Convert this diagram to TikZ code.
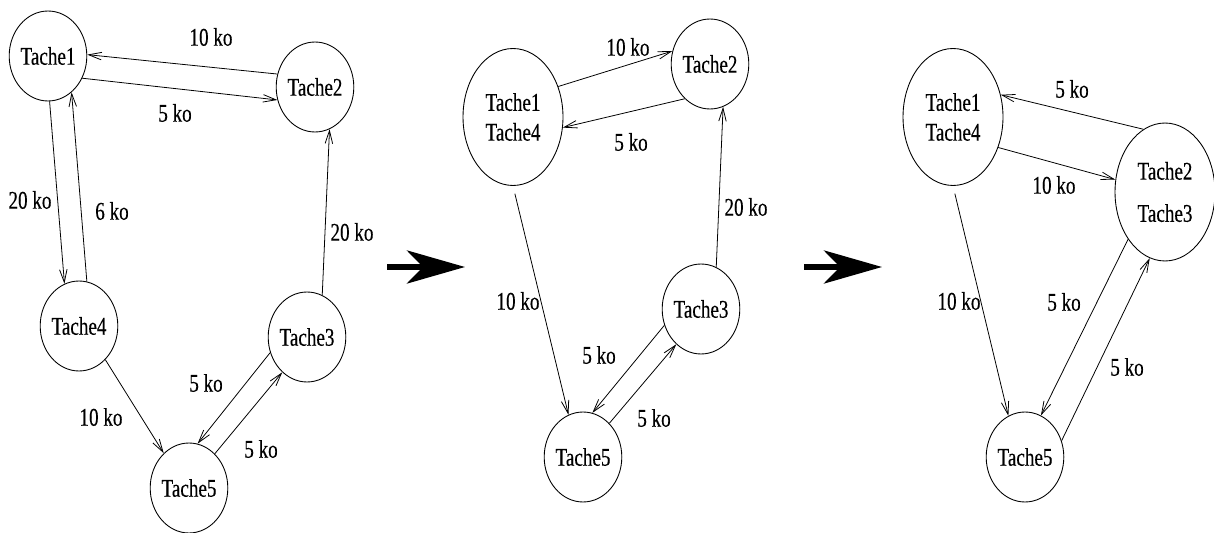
\documentclass[tikz,border=0pt]{standalone}
\usepackage{fontspec}
\setmainfont{Liberation Serif}[FakeStretch=0.75, FakeBold=0.3]
\usetikzlibrary{shapes.geometric, arrows.meta}

\begin{document}
\begin{tikzpicture}[
    x=0.02cm, y=-0.02cm,
    font=\fontsize{14.5}{17}\selectfont,
    tache/.style={
        draw,
        ellipse,
        line width=0.5pt,
        inner sep=0pt,
        minimum width=1.3cm,
        minimum height=1.8cm
    },
    merged/.style={tache, minimum width=2cm, minimum height=2.74cm, align=center},
    flow/.style={-{Straight Barb[length=2.6mm, width=1.5mm]}, line width=0.45pt},
    qty/.style={inner sep=0pt},
    bigarrow/.style={-{Stealth[length=1.16cm, width=0.66cm, inset=0.32cm]}, line width=3.4pt}
]
\useasboundingbox (0,0) rectangle (1214,533);

% Initial graph
\node[tache] (aT1) at (48,56) {Tache1};
\node[tache] (aT2) at (315,87) {Tache2};
\node[tache] (aT4) at (79,326) {Tache4};
\node[tache] (aT3) at (307,337) {Tache3};
\node[tache] (aT5) at (189,488) {Tache5};

\draw[flow] (aT2.161) -- (aT1.2);
\draw[flow] (aT1.-33) -- (aT2.199);
\draw[flow] (aT1.-88) -- (aT4.109);
\draw[flow] (aT4.80) -- (aT1.-57);
\draw[flow] (aT3.70) -- (aT2.-71);
\draw[flow] (aT4.-52) -- (aT5.126);
\draw[flow] (aT3.203) -- (aT5.79);
\draw[flow] (aT5.53) -- (aT3.235);

\node[qty] (aL12) at (211,37) {10 ko};
\node[qty] (aL21) at (175,113) {5 ko};
\node[qty] (aL14) at (30,200) {20 ko};
\node[qty] (aL41) at (112,211) {6 ko};
\node[qty] (aL32) at (352,232) {20 ko};
\node[qty] (aL45) at (101,417) {10 ko};
\node[qty] (aL35) at (206,383) {5 ko};
\node[qty] (aL53) at (261,449) {5 ko};

% First merge
\coordinate (s1) at (387,267);
\coordinate (e1) at (465,267);
\draw[bigarrow] (s1) -- (e1);

\node[merged] (bT14) at (513,117) {Tache1\\Tache4};
\node[tache] (bT2) at (710,64) {Tache2};
\node[tache] (bT3) at (701,309) {Tache3};
\node[tache] (bT5) at (583,457) {Tache5};

\draw[flow] (bT14.34) -- (bT2.161);
\draw[flow] (bT2.234) -- (bT14.-12);
\draw[flow, shorten <=0.16cm] (bT14.-90) -- (bT5.109);
\draw[flow] (bT3.70) -- (bT2.-73);
\draw[flow] (bT3.204) -- (bT5.78);
\draw[flow] (bT5.52) -- (bT3.235);

\node[qty] (bL12) at (628,47) {10 ko};
\node[qty] (bL21) at (631,142) {5 ko};
\node[qty] (bL15) at (518,301) {10 ko};
\node[qty] (bL32) at (746,207) {20 ko};
\node[qty] (bL35) at (599,355) {5 ko};
\node[qty] (bL53) at (654,418) {5 ko};

% Second merge
\coordinate (s2) at (804,267);
\coordinate (e2) at (882,267);
\draw[bigarrow] (s2) -- (e2);

\node[merged] (cT14) at (953,117) {Tache1\\Tache4};
\node[merged, minimum height=2.76cm, font=\fontsize{14.5}{24}\selectfont] (cT23) at (1165,192) {Tache2\\Tache3};
\node[tache] (cT5) at (1025,457) {Tache5};

\draw[flow] (cT23.109) -- (cT14.25);
\draw[flow] (cT14.-34) -- (cT23.166);
\draw[flow, shorten <=0.16cm] (cT14.-90) -- (cT5.112);
\draw[flow] (cT23.232) -- (cT5.69);
\draw[flow] (cT5.24) -- (cT23.257);

\node[qty] (cL21) at (1072,89) {5 ko};
\node[qty] (cL12) at (1054,185) {10 ko};
\node[qty] (cL15) at (959,301) {10 ko};
\node[qty] (cL25) at (1064,302) {5 ko};
\node[qty] (cL52) at (1127,367) {5 ko};

\end{tikzpicture}
\end{document}
